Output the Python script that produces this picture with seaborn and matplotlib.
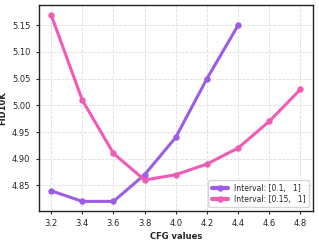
import matplotlib
matplotlib.use("Agg")
import matplotlib.pyplot as plt
import seaborn as sns
import pandas as pd

cfg_a = [3.2, 3.4, 3.6, 3.8, 4.0, 4.2, 4.4]
fid_a = [4.84, 4.82, 4.82, 4.87, 4.94, 5.05, 5.15]
cfg_b = [3.2, 3.4, 3.6, 3.8, 4.0, 4.2, 4.4, 4.6, 4.8]
fid_b = [5.17, 5.01, 4.91, 4.86, 4.87, 4.89, 4.92, 4.97, 5.03]
labels = ["Interval: [0.1,   1]", "Interval: [0.15,   1]"]
colors = ["#9B5DE5", "#F15BB5"]

df = pd.concat([
    pd.DataFrame({"cfg": cfg_a, "fid": fid_a, "series": labels[0]}),
    pd.DataFrame({"cfg": cfg_b, "fid": fid_b, "series": labels[1]}),
])

sns.set_style("ticks")
plt.rcParams['font.family'] = ['DejaVu Sans']
fig, ax = plt.subplots(figsize=(3.19, 2.4), dpi=100)
sns.lineplot(data=df, x="cfg", y="fid", hue="series", palette=colors,
             marker="o", markersize=4.6, markeredgewidth=0, linewidth=2.2, ax=ax)
ax.grid(True, linestyle="--", color="#dddddd", linewidth=0.6)
ax.set_xticks([3.2, 3.4, 3.6, 3.8, 4.0, 4.2, 4.4, 4.6, 4.8])
ax.set_yticks([4.85, 4.90, 4.95, 5.00, 5.05, 5.10, 5.15])
ax.set_yticklabels(["4.85", "4.90", "4.95", "5.00", "5.05", "5.10", "5.15"])
ax.tick_params(labelsize=6, length=2.5, width=0.8)
ax.set_xlabel("CFG values", fontsize=6, fontweight="bold", labelpad=3)
ax.set_ylabel("FID10K", fontsize=6, fontweight="bold", labelpad=3)
for s in ax.spines.values():
    s.set_linewidth(1.0)
    s.set_color("#222222")
leg = ax.legend(loc="lower right", fontsize=5.5, title=None, frameon=True,
                handlelength=2.2, borderpad=0.4, labelspacing=0.3)
for h in leg.get_lines():
    h.set_linewidth(3)
fig.subplots_adjust(left=0.121, right=0.981, top=0.978, bottom=0.122)
fig.savefig("out.png", dpi=100)
